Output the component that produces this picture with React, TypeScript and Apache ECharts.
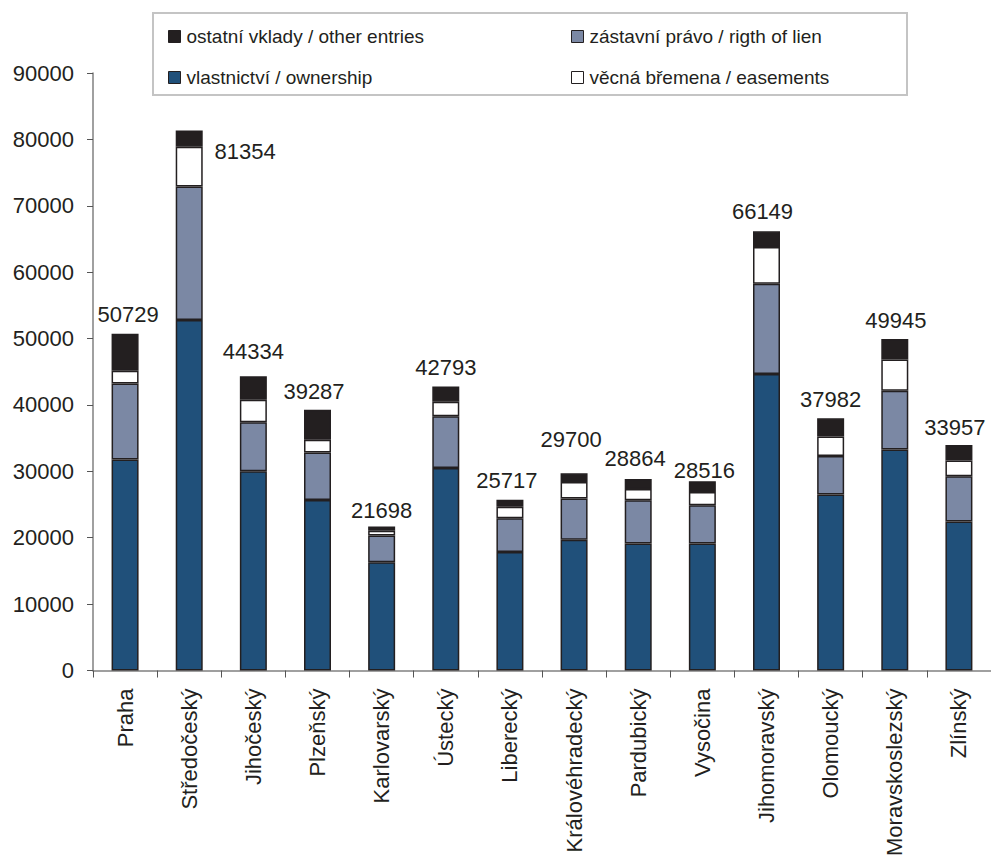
import React, { useEffect, useRef } from "react";
import * as echarts from "echarts";

const categories = [
  "Praha", "Středočeský", "Jihočeský", "Plzeňský", "Karlovarský", "Ústecký", "Liberecký",
  "Královéhradecký", "Pardubický", "Vysočina", "Jihomoravský", "Olomoucký", "Moravskoslezský", "Zlínský",
];
const ownership = [31800, 52800, 30000, 25700, 16300, 30500, 17850, 19700, 19150, 19150, 44650, 26500, 33300, 22450];
const lien = [11450, 20100, 7400, 7150, 4050, 7800, 5100, 6200, 6500, 5750, 13600, 5800, 8850, 6800];
const easements = [1900, 6000, 3400, 1900, 700, 2200, 1700, 2500, 1700, 2000, 5550, 2950, 4700, 2400];
const otherEntries = [5579, 2454, 3534, 4537, 648, 2293, 1067, 1300, 1514, 1616, 2349, 2732, 3095, 2307];
const totals = [50729, 81354, 44334, 39287, 21698, 42793, 25717, 29700, 28864, 28516, 66149, 37982, 49945, 33957];

// label nudges (style only)
const labelOffsets: [number, number][] = [
  [3, -3], [56, 37.5], [0, -8.5], [-3.5, -2.5], [0, 0.5], [0, -2.5], [-3, -3.5],
  [-3, -17.5], [-3, -4.5], [2, 5.5], [-4, -3.5], [0, -2.5], [1, -2.5], [-4, -1.5],
];

const NAME_OWN = "vlastnictví / ownership";
const NAME_LIEN = "zástavní právo / rigth of lien";
const NAME_EAS = "věcná břemena / easements";
const NAME_OTH = "ostatní vklady / other entries";

const FONT = "'Liberation Sans', Arial, Helvetica, sans-serif";
const INK = "#231f20";

export default function App() {
  const ref = useRef<HTMLDivElement>(null);
  useEffect(() => {
    if (!ref.current) return;
    const chart = echarts.init(ref.current, undefined, { renderer: "svg" });
    const border = { borderColor: INK, borderWidth: 1.5 };
    const mk = (name: string, data: any[], color: string, extra: any = {}) => ({
      name,
      type: "bar",
      stack: "total",
      barWidth: 27,
      data,
      itemStyle: { color, ...border },
      emphasis: { disabled: true },
      ...extra,
    });
    chart.setOption({
      animation: false,
      textStyle: { fontFamily: FONT },
      grid: { left: 93, right: -6, top: 73, bottom: 185.5, containLabel: false },
      legend: [
        {
          left: 163, top: 22, orient: "vertical", itemGap: 22,
          itemWidth: 12, itemHeight: 12, icon: "rect",
          data: [NAME_OTH, NAME_OWN],
          textStyle: { fontSize: 19, color: INK, fontFamily: FONT, padding: [0, 0, 0, 1] },
          itemStyle: { borderColor: INK, borderWidth: 1 },
          selectedMode: false,
        },
        {
          left: 566, top: 22, orient: "vertical", itemGap: 22,
          itemWidth: 12, itemHeight: 12, icon: "rect",
          data: [NAME_LIEN, NAME_EAS],
          textStyle: { fontSize: 19, color: INK, fontFamily: FONT, padding: [0, 0, 0, 1] },
          itemStyle: { borderColor: INK, borderWidth: 1 },
          selectedMode: false,
        },
      ],
      graphic: [
        {
          type: "rect",
          shape: { x: 153, y: 13, width: 754, height: 82 },
          style: { fill: "none", stroke: "#c4c4c4", lineWidth: 2 },
          silent: true,
        },
      ],
      xAxis: {
        type: "category",
        data: categories,
        axisLine: { lineStyle: { color: "#808080", width: 1.5 } },
        axisTick: { show: true, length: 7, lineStyle: { color: "#555" } },
        axisLabel: { rotate: 90, fontSize: 22, color: INK, margin: 18, fontFamily: FONT, interval: 0 },
      },
      yAxis: {
        type: "value",
        min: 0, max: 90000, interval: 10000,
        axisLine: { show: true, lineStyle: { color: "#808080", width: 1.5 } },
        axisTick: { show: true, length: 6, lineStyle: { color: "#555" } },
        splitLine: { show: false },
        axisLabel: {
          fontSize: 22, color: INK, margin: 19, fontFamily: FONT,
          formatter: (v: number) => String(v),
        },
      },
      series: [
        mk(NAME_OWN, ownership, "#20507a"),
        mk(NAME_LIEN, lien, "#7b88a4"),
        mk(NAME_EAS, easements, "#ffffff"),
        mk(
          NAME_OTH,
          otherEntries.map((v, i) => ({ value: v, label: { offset: labelOffsets[i] } })),
          INK,
          {
            label: {
              show: true,
              position: "top",
              distance: 5,
              fontSize: 22,
              color: INK,
              fontFamily: FONT,
              formatter: (p: any) => String(totals[p.dataIndex]),
            },
          }
        ),
      ],
    });
    return () => chart.dispose();
  }, []);
  return (
    <div
      ref={ref}
      style={{ position: "fixed", left: 0, top: 0, width: 991, height: 859, background: "#fff" }}
    />
  );
}
